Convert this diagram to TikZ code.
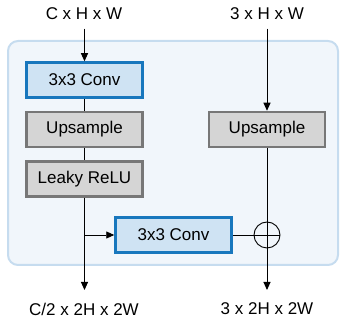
\documentclass[tikz,border=0pt]{standalone}
\usepackage{fontspec}
\setmainfont{Liberation Sans}
\usetikzlibrary{arrows.meta}
\definecolor{outerfill}{HTML}{F1F6FB}
\definecolor{outerline}{HTML}{C6DCEF}
\definecolor{convfill}{HTML}{CFE3F3}
\definecolor{convline}{HTML}{1877BD}
\definecolor{greyfill}{HTML}{D5D5D5}
\definecolor{greyline}{HTML}{777777}
\begin{document}
\begin{tikzpicture}[x=1pt,y=-1pt,
  every node/.style={font=\fontsize{17}{20}\selectfont},
  convbox/.style={draw=convline,fill=convfill,line width=2.5pt,minimum width=116pt,minimum height=35pt,inner sep=0pt},
  greybox/.style={draw=greyline,fill=greyfill,line width=2.5pt,minimum width=116pt,minimum height=35pt,inner sep=0pt},
  conn/.style={line width=0.9pt,black},
  arr/.style={conn,-{Triangle[length=8pt,width=7pt]}}]
\useasboundingbox (0,0) rectangle (341,320);
\draw[draw=outerline,fill=outerfill,line width=2pt,rounded corners=10pt] (8,41) rectangle (338,265);
\node (inL) at (84,14) {C x H x W};
\node (inR) at (267,14) {3 x H x W};
\node[convbox] (conv1) at (84.5,80) {3x3 Conv};
\node[greybox] (up1) at (84.5,129.5) {Upsample};
\node[greybox] (relu) at (84.5,179) {Leaky ReLU};
\node[greybox] (up2) at (267,129.5) {Upsample};
\node[convbox] (conv2) at (173.5,235) {3x3 Conv};
\node[draw,conn,circle,minimum size=26pt,inner sep=0pt] (plus) at (267,235) {};
\draw[conn] (plus.north) -- (plus.south) (plus.west) -- (plus.east);
\node (outL) at (84,309) {C/2 x 2H x 2W};
\node (outR) at (267,309) {3 x 2H x 2W};
\coordinate (brL) at (84.5,235);
\coordinate (endL) at (84.5,290);
\coordinate (endR) at (267,290);
\draw[arr] (inL.south -| conv1.north) ++(0,5) -- (conv1.north);
\draw[arr] (inR.south) ++(0,5) -- (up2.north);
\draw[conn] (conv1) -- (up1);
\draw[conn] (up1) -- (relu);
\draw[arr] (relu.south) -- (endL);
\draw[arr] (brL) -- (conv2.west);
\draw[conn] (conv2.east) -- (plus.west);
\draw[conn] (up2.south) -- (plus.north);
\draw[arr] (plus.south) -- (endR);
\end{tikzpicture}
\end{document}
